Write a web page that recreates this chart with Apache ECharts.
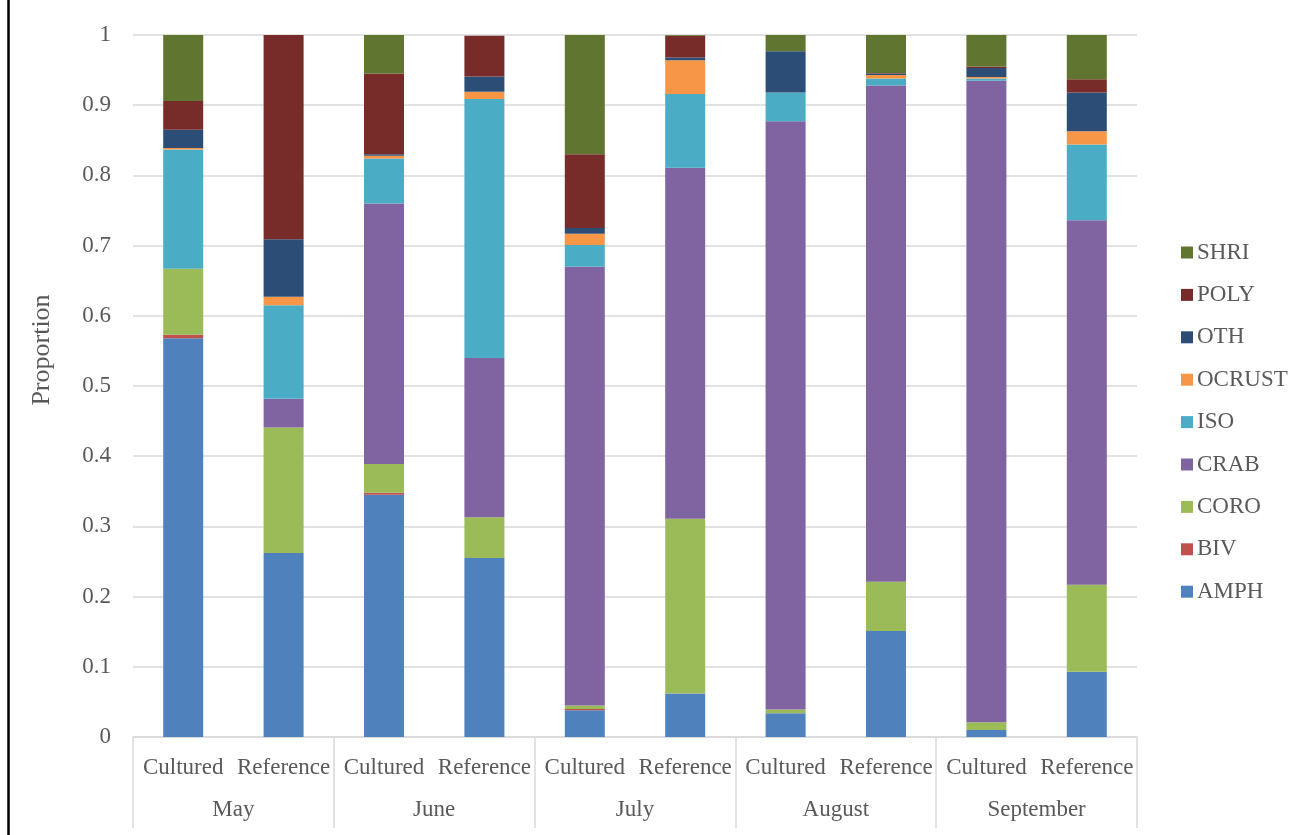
<!DOCTYPE html>
<html>
<head>
<meta charset="utf-8">
<title>Diet composition by month</title>
<script src="https://cdn.jsdelivr.net/npm/echarts@6/dist/echarts.min.js"></script>
<style>
  html, body { margin: 0; padding: 0; background: #fff; }
  #chart { width: 1304px; height: 835px; }
</style>
</head>
<body>
<div id="chart"></div>
<script>
// Bars: one per site within each month
const groups = ['Cultured', 'Reference'];
const months = ['May', 'June', 'July', 'August', 'September'];
const bars = ['Cultured', 'Reference', 'Cultured', 'Reference', 'Cultured', 'Reference',
              'Cultured', 'Reference', 'Cultured', 'Reference'];

// Proportion of each prey group, in bar order above
const AMPH   = [0.568, 0.262, 0.345, 0.255, 0.038, 0.062, 0.034, 0.151, 0.010, 0.093];
const BIV    = [0.005, 0.000, 0.003, 0.000, 0.002, 0.000, 0.000, 0.000, 0.000, 0.000];
const CORO   = [0.094, 0.179, 0.041, 0.058, 0.005, 0.249, 0.005, 0.070, 0.011, 0.124];
const CRAB   = [0.000, 0.041, 0.371, 0.227, 0.625, 0.500, 0.838, 0.707, 0.914, 0.519];
const ISO    = [0.170, 0.133, 0.064, 0.369, 0.031, 0.105, 0.041, 0.010, 0.003, 0.108];
const OCRUST = [0.002, 0.012, 0.004, 0.010, 0.016, 0.048, 0.000, 0.005, 0.002, 0.019];
const OTH    = [0.026, 0.082, 0.002, 0.022, 0.008, 0.004, 0.059, 0.002, 0.013, 0.055];
const POLY   = [0.041, 0.291, 0.115, 0.058, 0.105, 0.031, 0.000, 0.001, 0.002, 0.019];
const SHRI   = [0.094, 0.000, 0.056, 0.000, 0.170, 0.002, 0.024, 0.055, 0.046, 0.063];

const yTicks = ['0', '0.1', '0.2', '0.3', '0.4', '0.5', '0.6', '0.7', '0.8', '0.9', '1'];

const seriesDefs = [
  { name: 'AMPH',   data: AMPH,   color: '#4F81BD' },
  { name: 'BIV',    data: BIV,    color: '#C0504D' },
  { name: 'CORO',   data: CORO,   color: '#9BBB59' },
  { name: 'CRAB',   data: CRAB,   color: '#8064A2' },
  { name: 'ISO',    data: ISO,    color: '#4BACC6' },
  { name: 'OCRUST', data: OCRUST, color: '#F79646' },
  { name: 'OTH',    data: OTH,    color: '#2C4D75' },
  { name: 'POLY',   data: POLY,   color: '#772C2A' },
  { name: 'SHRI',   data: SHRI,   color: '#5F7530' }
];

const FONT = '"Liberation Serif", "Times New Roman", serif';
const TEXT = '#595959';
const GRID = '#D9D9D9';

const chart = echarts.init(document.getElementById('chart'), null, { renderer: 'canvas' });

chart.setOption({
  animation: false,
  backgroundColor: '#fff',
  grid: { left: 133, right: 167, top: 35, bottom: 98, containLabel: false },
  legend: {
    orient: 'vertical',
    left: 1176,
    top: 236,
    itemWidth: 12,
    itemHeight: 12,
    itemGap: 19.4,
    icon: 'rect',
    data: seriesDefs.map(s => s.name).reverse(),
    textStyle: { fontFamily: FONT, fontSize: 23, color: TEXT, padding: [0, 0, 0, -1] }
  },
  xAxis: [
    {
      type: 'category',
      data: bars,
      axisLine: { show: true, lineStyle: { color: GRID, width: 1.5 } },
      axisTick: { show: false },
      axisLabel: { margin: 19, fontFamily: FONT, fontSize: 23, color: TEXT, interval: 0 }
    },
    {
      type: 'category',
      data: months,
      position: 'bottom',
      axisLine: { show: false },
      axisTick: { show: true, length: 91, alignWithLabel: false, lineStyle: { color: GRID, width: 1.5 } },
      axisLabel: { margin: 61, fontFamily: FONT, fontSize: 23, color: TEXT, interval: 0 }
    }
  ],
  yAxis: {
    type: 'value',
    min: 0,
    max: 1,
    interval: 0.1,
    axisLine: { show: false },
    axisTick: { show: false },
    splitLine: { lineStyle: { color: GRID, width: 1.5 } },
    axisLabel: {
      margin: 22,
      fontFamily: FONT,
      fontSize: 23,
      color: TEXT,
      formatter: (v) => yTicks[Math.round(v * 10)]
    }
  },
  series: seriesDefs.map(s => ({
    name: s.name,
    type: 'bar',
    stack: 'total',
    xAxisIndex: 0,
    barWidth: 40,
    data: s.data,
    itemStyle: { color: s.color }
  })),
  graphic: [
    {
      type: 'text',
      x: 42,
      y: 350,
      rotation: Math.PI / 2,
      style: {
        text: 'Proportion',
        fontFamily: FONT,
        fontSize: 26,
        fill: TEXT,
        align: 'center',
        verticalAlign: 'middle'
      }
    },
    {
      type: 'line',
      shape: { x1: 8.5, y1: 0, x2: 8.5, y2: 835 },
      style: { stroke: '#000', lineWidth: 2.5 }
    }
  ]
});
</script>
</body>
</html>
